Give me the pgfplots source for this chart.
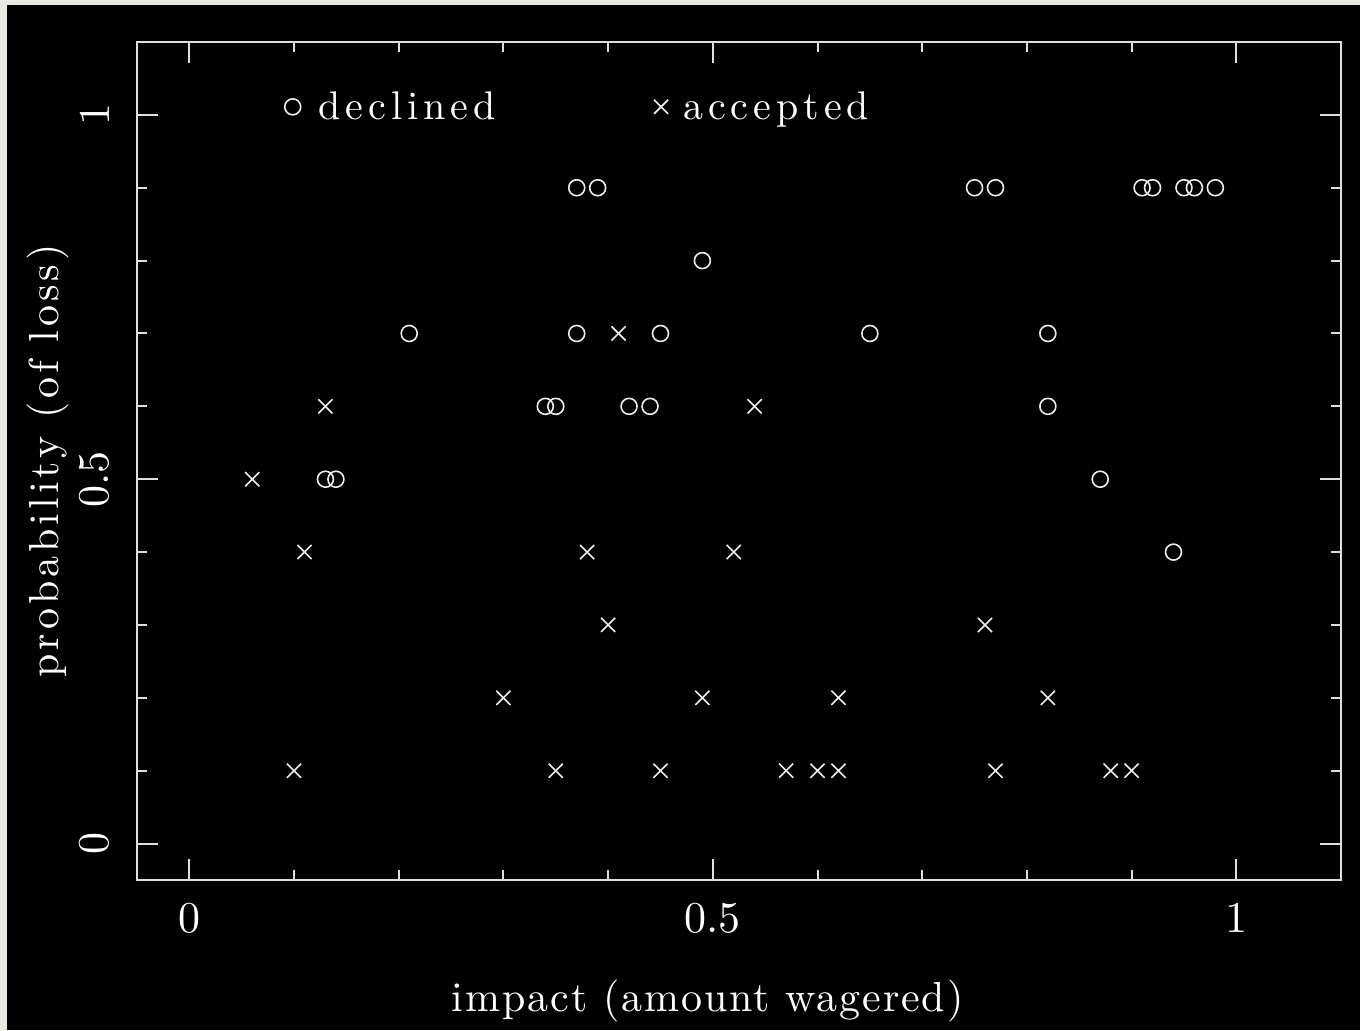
\documentclass[border=0pt]{standalone}
\usepackage{fontspec}
\setmainfont{lmroman10-regular.otf}
\newfontfamily\xlabfont{lmroman10-regular.otf}[LetterSpace=4.5]
\newfontfamily\ylabfont{lmroman10-regular.otf}[LetterSpace=9.5]
\newfontfamily\legfont{lmroman10-regular.otf}[LetterSpace=12.5]
\usepackage{pgfplots}
\usepackage{pgfplotstable}
\pgfplotsset{compat=1.18}
\pgfplotsset{legend image code/.code={\draw[#1] plot coordinates {(0pt,0pt)};}}
\definecolor{bord}{RGB}{235,235,230}
\definecolor{axcol}{RGB}{222,222,222}
\definecolor{mk}{RGB}{238,238,238}

\pgfplotstableread{
x y
0.21 0.7
0.13 0.5
0.14 0.5
0.34 0.6
0.35 0.6
0.37 0.9
0.39 0.9
0.37 0.7
0.42 0.6
0.44 0.6
0.45 0.7
0.49 0.8
0.65 0.7
0.75 0.9
0.77 0.9
0.82 0.7
0.82 0.6
0.87 0.5
0.91 0.9
0.92 0.9
0.95 0.9
0.96 0.9
0.98 0.9
0.94 0.4
}\declined

\pgfplotstableread{
x y
0.06 0.5
0.13 0.6
0.11 0.4
0.10 0.1
0.30 0.2
0.35 0.1
0.38 0.4
0.40 0.3
0.41 0.7
0.45 0.1
0.49 0.2
0.52 0.4
0.54 0.6
0.57 0.1
0.60 0.1
0.62 0.1
0.62 0.2
0.76 0.3
0.77 0.1
0.82 0.2
0.88 0.1
0.90 0.1
}\accepted

\begin{document}
\begin{tikzpicture}
\useasboundingbox (0,0) rectangle (680pt,515pt);
\fill[black] (0,0) rectangle (680pt,515pt);
\fill[bord] (0,0) rectangle (3.5pt,515pt);
\fill[bord] (0,512.5pt) rectangle (680pt,515pt);
\begin{axis}[
  at={(68.5pt,75pt)}, anchor=south west,
  scale only axis, width=602pt, height=419pt,
  xmin=-0.05, xmax=1.1, ymin=-0.05, ymax=1.1,
  xtick={0,0.5,1}, ytick={0,0.5,1},
  minor xtick={0.1,0.2,0.3,0.4,0.6,0.7,0.8,0.9},
  minor ytick={0.1,0.2,0.3,0.4,0.6,0.7,0.8,0.9},
  axis line style={axcol, line width=1pt},
  tick style={axcol, line width=1pt},
  major tick length=10.5pt, minor tick length=5pt,
  tick align=inside,
  /pgf/number format/assume math mode=true,
  ticklabel style={font=\fontsize{22}{26}\selectfont, text=white, inner sep=0pt},
  xticklabel style={anchor=north},
  xticklabel shift=11.5pt,
  yticklabel style={rotate=90, anchor=south},
  yticklabel shift=13.75pt,
  xlabel={impact (amount wagered)},
  ylabel={probability (of loss)},
  xlabel style={font=\xlabfont\fontsize{21}{25}\selectfont, text=white,
    at={(axis description cs:0.474,-0.1575)}, anchor=base, inner sep=0pt},
  ylabel style={font=\ylabfont\fontsize{21}{25}\selectfont, text=white,
    at={(axis description cs:-0.0648,0.5)}, anchor=base, inner sep=0pt},
  legend columns=2,
  legend cell align=left,
  legend style={draw=none, fill=none, text=white,
    font=\legfont\fontsize{20}{24}\selectfont,
    at={(axis cs:0.0907,1.011)}, anchor=west, inner sep=0pt,
    nodes={inner sep=0pt},
    /tikz/column 1/.style={column sep=9pt},
    /tikz/column 2/.style={column sep=79pt},
    /tikz/column 3/.style={column sep=7.5pt}},
]
\addplot[only marks, mark=o, mark size=4pt, draw=mk, line width=0.8pt]
  table[x=x,y=y] {\declined};
\addlegendentry{declined}
\addplot[only marks, mark=x, mark size=5pt, draw=mk, line width=0.8pt]
  table[x=x,y=y] {\accepted};
\addlegendentry{accepted}
\end{axis}
\end{tikzpicture}
\end{document}
